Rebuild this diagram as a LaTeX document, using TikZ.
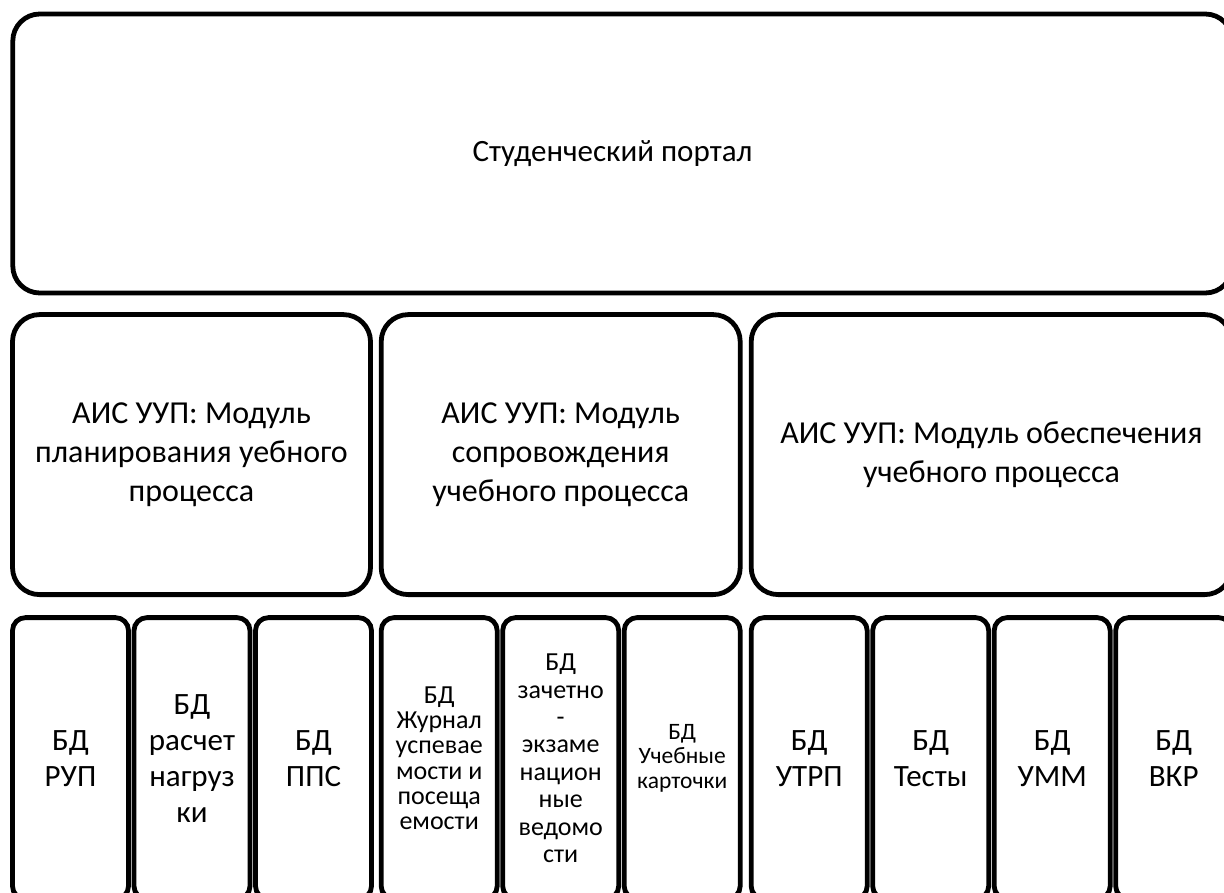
\documentclass[tikz,border=0pt]{standalone}
\usepackage{fontspec}
\setmainfont{Carlito}
\usetikzlibrary{positioning}

\tikzset{
  box/.style={draw, line width=4.8pt, rounded corners=27pt, align=center,
    inner sep=0pt, outer sep=0pt},
  modbox/.style={box, minimum height=280pt,
    font=\fontsize{32}{39}\selectfont},
  dbbox/.style={box, rounded corners=13pt, minimum width=116pt,
    minimum height=281.5pt, font=\fontsize{31}{36}\selectfont},
  dbsmall/.style={dbbox, font=\fontsize{26}{25.3}\selectfont},
  dbtiny/.style={dbbox, font=\fontsize{23.5}{25}\selectfont},
}

\begin{document}
\begin{tikzpicture}[x=1pt,y=-1pt]
\useasboundingbox (0,0) rectangle (1224,893);
\clip (0,0) rectangle (1224,893);

				\node[box, anchor=north west, minimum width=1219.5pt, minimum height=279pt,
				  font=\fontsize{31}{38}\selectfont](portal) at (12.8,14) {\hspace*{-20pt}Студенческий портал};

				% modules
				\node[modbox, minimum width=358pt, below right=21.6pt and -0.3pt of portal.south west](plan)
				  {АИС УУП: Модуль\\планирования уебного\\процесса};
				\node[modbox, minimum width=359pt, right=10.7pt of plan](soprov)
				  {АИС УУП: Модуль\\сопровождения\\учебного процесса};
				\node[modbox, minimum width=480.5pt, right=11pt of soprov](obesp)
				  {АИС УУП: Модуль обеспечения\\учебного процесса};

				% databases
				\node[dbbox, below right=23pt and 0pt of plan.south west](rup) {БД\\РУП};
				\node[dbbox, right=5.5pt of rup](nagr) {БД\\расчет\\нагруз\\ки};
				\node[dbbox, right=5.5pt of nagr](pps) {БД\\ППС};
				\node[dbsmall, below right=23pt and 0pt of soprov.south west](zhurn)
				  {БД\\Журнал\\успевае\\мости и\\посеща\\емости};
				\node[dbsmall, right=5.5pt of zhurn, font=\fontsize{26}{27.4}\selectfont](ved)
				  {БД\\зачетно\\-\\экзаме\\национ\\ные\\ведомо\\сти};
				\node[dbtiny, right=5.5pt of ved](kart) {БД\\Учебные\\карточки};
				\node[dbbox, below right=23pt and 0pt of obesp.south west](utrp) {БД\\УТРП};
				\node[dbbox, right=5.5pt of utrp](test) {БД\\Тесты};
				\node[dbbox, right=5.5pt of test](umm) {БД\\УММ};
				\node[dbbox, right=5.5pt of umm](vkr) {БД\\ВКР};
			\end{tikzpicture}
\end{document}
